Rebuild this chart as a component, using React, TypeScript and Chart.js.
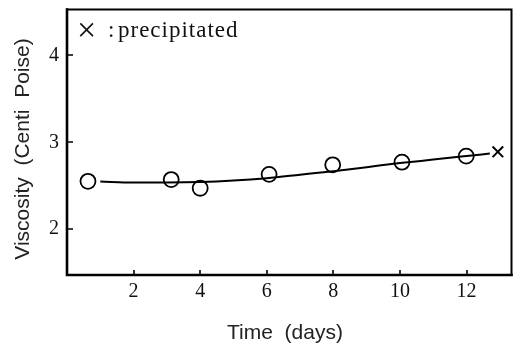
import React, { useEffect, useRef } from "react";
import { Chart, registerables } from "chart.js";

Chart.register(...registerables);

// Smoothed trend line through the viscosity readings
const fitDays = [1.0, 2, 3, 4, 5, 6, 7, 8, 9, 10, 11, 12, 12.7];
const fitViscosity = [2.547, 2.536, 2.536, 2.541, 2.558, 2.586, 2.626, 2.667, 2.713, 2.76, 2.80, 2.841, 2.87];

// Measured viscosity (centipoise) against storage time (days)
const measuredDays = [0.63, 3.13, 4.0, 6.07, 7.98, 10.06, 11.99];
const measuredViscosity = [2.55, 2.57, 2.47, 2.63, 2.74, 2.77, 2.84];

// Reading at which the sample had precipitated
const precipitatedDays = [12.94];
const precipitatedViscosity = [2.89];

const xTickValues = [2, 4, 6, 8, 10, 12];
const yTickValues = [2, 3, 4];

const X_MIN = 0;
const X_MAX = 13.35;
const Y_MIN = 1.47;
const Y_MAX = 4.53;

const SERIF = "'Liberation Serif', 'DejaVu Serif', serif";
const SANS = "'Liberation Sans', Arial, sans-serif";

const framePlugin = {
  id: "frameAndLabels",
  afterDraw(chart: any) {
    const { ctx, chartArea } = chart;
    const { left, right, top, bottom } = chartArea;
    const xs = chart.scales.x;
    const ys = chart.scales.y;
    ctx.save();
    ctx.strokeStyle = "#000";
    ctx.lineCap = "square";
    // frame: heavier on the left and bottom
    ctx.lineWidth = 2;
    ctx.beginPath();
    ctx.moveTo(left, top);
    ctx.lineTo(right, top);
    ctx.lineTo(right, bottom);
    ctx.stroke();
    ctx.lineWidth = 2.6;
    ctx.beginPath();
    ctx.moveTo(left, top);
    ctx.lineTo(left, bottom);
    ctx.lineTo(right, bottom);
    ctx.stroke();
    // inward ticks
    ctx.lineWidth = 1.6;
    ctx.lineCap = "butt";
    ctx.beginPath();
    xTickValues.forEach((v) => {
      const px = Math.round(xs.getPixelForValue(v));
      ctx.moveTo(px, bottom);
      ctx.lineTo(px, bottom - 5);
    });
    yTickValues.forEach((v) => {
      const py = Math.round(ys.getPixelForValue(v));
      ctx.moveTo(left, py);
      ctx.lineTo(left + 6, py);
    });
    ctx.stroke();

    // axis titles
    ctx.fillStyle = "#222";
    ctx.font = `21px ${SANS}`;
    ctx.textAlign = "center";
    ctx.textBaseline = "middle";
    ctx.fillText("Time  (days)", 285, 333);
    ctx.save();
    ctx.translate(23, 149);
    ctx.rotate(-Math.PI / 2);
    ctx.fillText("Viscosity  (Centi  Poise)", 0, 0);
    ctx.restore();

    // key for the cross marker
    ctx.fillStyle = "#111";
    ctx.textAlign = "left";
    ctx.font = `34px ${SERIF}`;
    ctx.fillText("\u00d7", 77, 32);
    ctx.font = `23px ${SERIF}`;
    ctx.fillText(":", 108, 31);
    (ctx as any).letterSpacing = "1px";
    ctx.fillText("precipitated", 118, 31);
    ctx.restore();
  },
};

export default function App() {
  const canvasRef = useRef<HTMLCanvasElement | null>(null);

  useEffect(() => {
    if (!canvasRef.current) return;
    const chart = new Chart(canvasRef.current, {
      type: "scatter",
      data: {
        datasets: [
          {
            type: "line",
            label: "trend",
            data: fitDays.map((d, i) => ({ x: d, y: fitViscosity[i] })),
            borderColor: "#000",
            borderWidth: 2,
            pointRadius: 0,
            fill: false,
            cubicInterpolationMode: "monotone",
          },
          {
            label: "measured",
            data: measuredDays.map((d, i) => ({ x: d, y: measuredViscosity[i] })),
            pointStyle: "circle",
            pointRadius: 7.5,
            pointBorderWidth: 1.8,
            borderColor: "#000",
            backgroundColor: "rgba(0,0,0,0)",
          },
          {
            label: "precipitated",
            data: precipitatedDays.map((d, i) => ({ x: d, y: precipitatedViscosity[i] })),
            pointStyle: "crossRot",
            pointRadius: 7.5,
            pointBorderWidth: 2,
            borderColor: "#000",
            backgroundColor: "#000",
          },
        ],
      },
      options: {
        animation: false,
        responsive: false,
        events: [],
        layout: { padding: { left: 0, right: 9, top: 5, bottom: 0 } },
        plugins: { legend: { display: false }, tooltip: { enabled: false } },
        scales: {
          x: {
            type: "linear",
            min: X_MIN,
            max: X_MAX,
            grid: { display: false, drawTicks: false },
            border: { display: false },
            afterBuildTicks: (scale: any) => {
              scale.ticks = xTickValues.map((v) => ({ value: v }));
            },
            afterFit: (scale: any) => {
              scale.height = 72;
              scale.paddingLeft = 0;
              scale.paddingRight = 0;
            },
            ticks: {
              padding: 5,
              color: "#111",
              font: { family: SERIF, size: 20 },
              callback: (v: any) => String(v),
            },
          },
          y: {
            type: "linear",
            min: Y_MIN,
            max: Y_MAX,
            grid: { display: false, drawTicks: false },
            border: { display: false },
            afterBuildTicks: (scale: any) => {
              scale.ticks = yTickValues.map((v) => ({ value: v }));
            },
            afterFit: (scale: any) => {
              scale.width = 67;
              scale.paddingTop = 0;
              scale.paddingBottom = 0;
            },
            ticks: {
              padding: 8,
              color: "#111",
              font: { family: SERIF, size: 20 },
              callback: (v: any) => String(v),
            },
          },
        },
      },
      plugins: [framePlugin],
    } as any);
    return () => chart.destroy();
  }, []);

  return (
    <div style={{ position: "fixed", left: 0, top: 0, width: 521, height: 347, background: "#fff" }}>
      <canvas ref={canvasRef} width={521} height={347} style={{ width: 521, height: 347 }} />
    </div>
  );
}
